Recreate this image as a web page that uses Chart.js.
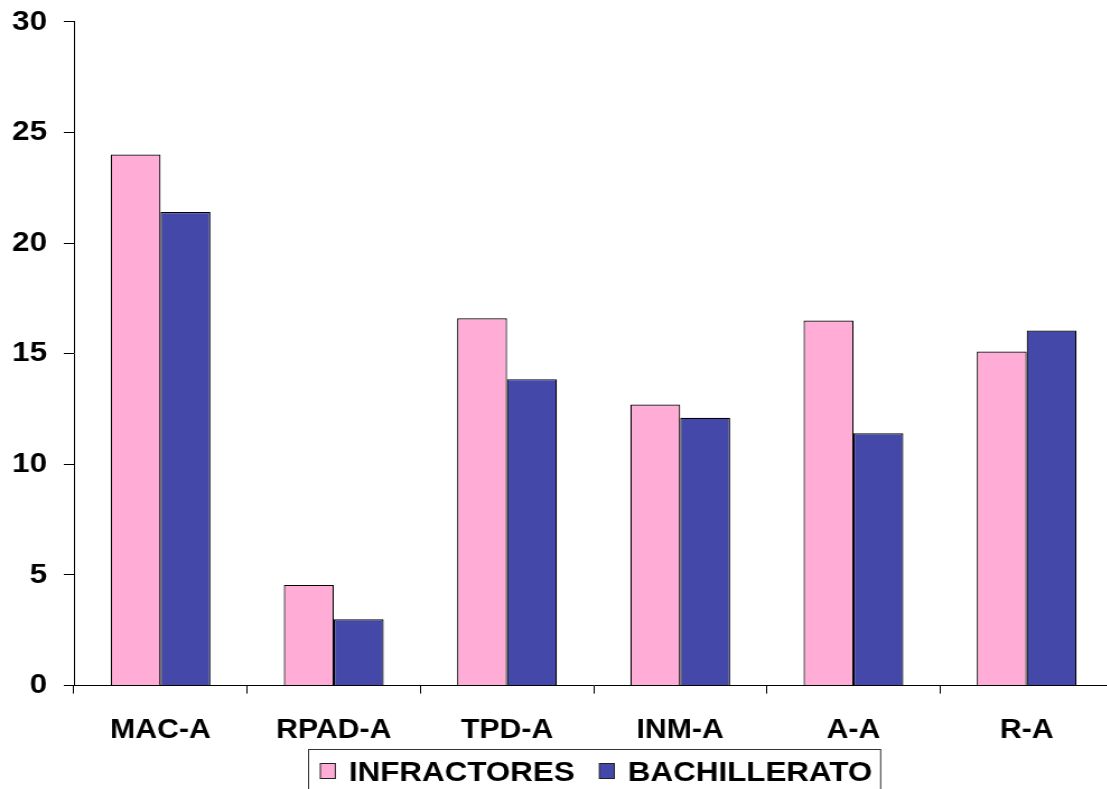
<!DOCTYPE html>
<html>
<head>
<meta charset="utf-8">
<script src="https://cdn.jsdelivr.net/npm/chart.js@4.4.0/dist/chart.umd.min.js"></script>
<style>
  html, body { margin: 0; padding: 0; overflow: hidden; background: #fff; }
  /* the drawing is widened a little horizontally, like the original wide-format figure */
  #wrap { width: 1000px; height: 799px; margin-top: -10px; transform: scaleX(1.12); transform-origin: 0 0; }
</style>
</head>
<body>
<div id="wrap"><canvas id="c" width="1000" height="799"></canvas></div>
<script>
const categories = ['MAC-A', 'RPAD-A', 'TPD-A', 'INM-A', 'A-A', 'R-A'];
const infractores = [24.0, 4.55, 16.6, 12.7, 16.5, 15.1];
const bachillerato = [21.4, 3.0, 13.85, 12.1, 11.4, 16.05];
const yTicks = [0, 5, 10, 15, 20, 25, 30];

const FONT = '"Liberation Sans", Arial, sans-serif';

// Legend drawn inside a framed box under the axis
const boxedLegend = {
  id: 'boxedLegend',
  afterDraw(chart) {
    const ctx = chart.ctx;
    const area = chart.chartArea;
    ctx.save();
    ctx.font = 'bold 28px ' + FONT;
    const sw = 13.4, sh = 15, padL = 11, gapT = 12, gapItem = 22, padR = 7;
    const items = chart.data.datasets.map(d => ({
      label: d.label, color: d.backgroundColor, w: ctx.measureText(d.label).width
    }));
    let total = padL + padR;
    items.forEach((it, i) => { total += sw + gapT + it.w + (i ? gapItem : 0); });
    const left = Math.round((area.left + area.right) / 2 - total / 2);
    const top = Math.round(area.bottom) + 63;
    const h = 44, cy = top + 22;
    ctx.strokeStyle = '#333';
    ctx.lineWidth = 1;
    ctx.strokeRect(left + 0.5, top + 0.5, total, h);
    let x = left + padL;
    items.forEach((it, i) => {
      if (i) x += gapItem;
      ctx.fillStyle = it.color;
      ctx.fillRect(x, cy - sh / 2, sw, sh);
      ctx.strokeStyle = '#222';
      ctx.strokeRect(x, cy - sh / 2, sw, sh);
      x += sw + gapT;
      ctx.fillStyle = '#000';
      ctx.textBaseline = 'alphabetic';
      ctx.fillText(it.label, x, cy + 10);
      x += it.w;
    });
    ctx.restore();
  }
};

new Chart(document.getElementById('c'), {
  type: 'bar',
  data: {
    labels: categories,
    datasets: [
      { label: 'INFRACTORES', data: infractores, backgroundColor: '#FFADD6', borderColor: '#000', borderWidth: 1.2 },
      { label: 'BACHILLERATO', data: bachillerato, backgroundColor: '#4449A9', borderColor: '#000', borderWidth: 1.2 }
    ]
  },
  options: {
    responsive: false,
    animation: false,
    events: [],
    layout: { padding: { top: 0, right: 6, bottom: 21, left: 0 } },
    datasets: { bar: { categoryPercentage: 0.576, barPercentage: 1.0 } },
    plugins: { legend: { display: false }, tooltip: { enabled: false } },
    scales: {
      x: {
        grid: { display: true, offset: true, drawOnChartArea: false, drawTicks: true, tickLength: 8, color: '#000' },
        border: { display: true, color: '#000', width: 1 },
        ticks: { color: '#000', font: { family: FONT, size: 27, weight: 'bold' }, padding: 21, maxRotation: 0 }
      },
      y: {
        min: 0, max: 30,
        afterBuildTicks(scale) { scale.ticks = yTicks.map(v => ({ value: v })); },
        afterFit(scale) { scale.width = 66; },
        grid: { display: true, drawOnChartArea: false, drawTicks: true, tickLength: 9, color: '#000' },
        border: { display: true, color: '#000', width: 1 },
        ticks: { color: '#000', font: { family: FONT, size: 28, weight: 'bold' }, padding: 15 }
      }
    }
  },
  plugins: [boxedLegend]
});
</script>
</body>
</html>
